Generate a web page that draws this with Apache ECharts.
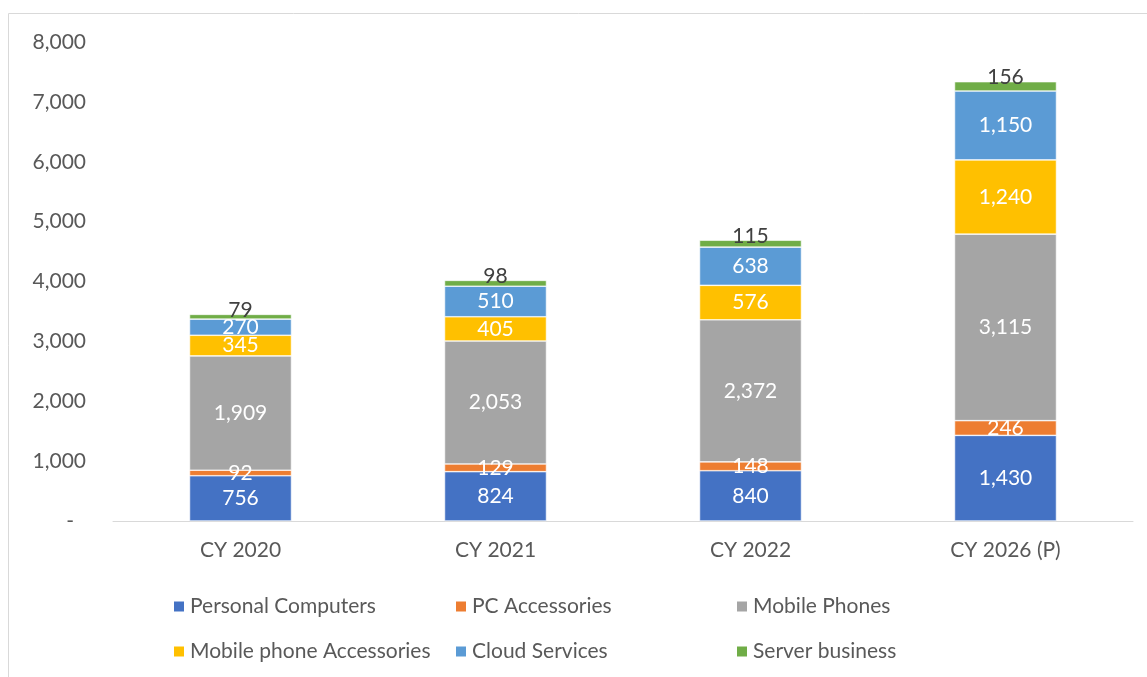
<!DOCTYPE html>
<html>
<head>
<meta charset="utf-8">
<script src="https://cdn.jsdelivr.net/npm/echarts@6/dist/echarts.min.js"></script>
<style>
  html, body { margin: 0; padding: 0; background: #fff; }
  #chartBox { width: 1147px; height: 677px; }
</style>
</head>
<body>
<div id="chartBox"></div>
<script>
const categories = ["CY 2020", "CY 2021", "CY 2022", "CY 2026 (P)"];
const personalComputers = [756, 824, 840, 1430];
const pcAccessories = [92, 129, 148, 246];
const mobilePhones = [1909, 2053, 2372, 3115];
const mobileAccessories = [345, 405, 576, 1240];
const cloudServices = [270, 510, 638, 1150];
const serverBusiness = [79, 98, 115, 156];
const seriesNames = [
  "Personal Computers",
  "PC Accessories",
  "Mobile Phones",
  "Mobile phone Accessories",
  "Cloud Services",
  "Server business",
];
const yTicks = [0, 1000, 2000, 3000, 4000, 5000, 6000, 7000, 8000];

const font = "Lato, 'Noto Sans', sans-serif";
const fs = 21;
const fmt = (v) => v.toLocaleString("en-US");

const makeSeries = (name, data, color, dark) => ({
  name: name,
  type: "bar",
  stack: "total",
  barWidth: 102,
  data: data,
  itemStyle: { color: color, borderColor: "#fff", borderWidth: 0.6 },
  label: dark
    ? {
        show: true,
        position: "top",
        distance: -6,
        color: "#404040",
        fontSize: fs,
        fontFamily: font,
        formatter: (p) => fmt(p.value),
      }
    : {
        show: true,
        position: "inside",
        color: "#fff",
        fontSize: fs,
        fontFamily: font,
        formatter: (p) => fmt(p.value),
      },
});

// one legend per item so the columns line up like the original
const legendCols = [167, 449, 730];
const legendRows = [591, 636];
const legends = seriesNames.map((name, i) => ({
  data: [name],
  left: legendCols[i % 3],
  top: legendRows[Math.floor(i / 3)],
  itemWidth: 12,
  itemHeight: 12,
  itemGap: 0,
  icon: "rect",
  textStyle: { color: "#595959", fontSize: fs, fontFamily: font },
}));

const chartFun = () => {
  const myChart = echarts.init(document.getElementById("chartBox"));
  const option = {
    animation: false,
    graphic: [
      {
        type: "rect",
        shape: { x: 8.5, y: 13.5, width: 1200, height: 700 },
        style: { fill: "none", stroke: "#d9d9d9", lineWidth: 1 },
      },
    ],
    grid: { left: 113, right: 14, top: 42, bottom: 156 },
    legend: legends,
    xAxis: {
      type: "category",
      data: categories,
      axisLine: { lineStyle: { color: "#d9d9d9", width: 1 } },
      axisTick: { show: false },
      axisLabel: { color: "#595959", fontSize: fs, fontFamily: font, margin: 19 },
    },
    yAxis: {
      type: "value",
      min: yTicks[0],
      max: yTicks[yTicks.length - 1],
      interval: 1000,
      splitLine: { show: false },
      axisLine: { show: false },
      axisTick: { show: false },
      axisLabel: {
        color: "#595959",
        fontSize: fs,
        fontFamily: font,
        margin: 27,
        formatter: (v) => (v === 0 ? "{dash|-}" : fmt(v)),
        rich: { dash: { fontSize: fs, fontFamily: font, color: "#595959", padding: [0, 12, 0, 0] } },
      },
    },
    series: [
      makeSeries(seriesNames[0], personalComputers, "#4472C4"),
      makeSeries(seriesNames[1], pcAccessories, "#ED7D31"),
      makeSeries(seriesNames[2], mobilePhones, "#A5A5A5"),
      makeSeries(seriesNames[3], mobileAccessories, "#FFC000"),
      makeSeries(seriesNames[4], cloudServices, "#5B9BD5"),
      makeSeries(seriesNames[5], serverBusiness, "#70AD47", true),
    ],
  };
  myChart.setOption(option);
};

chartFun();
</script>
</body>
</html>
